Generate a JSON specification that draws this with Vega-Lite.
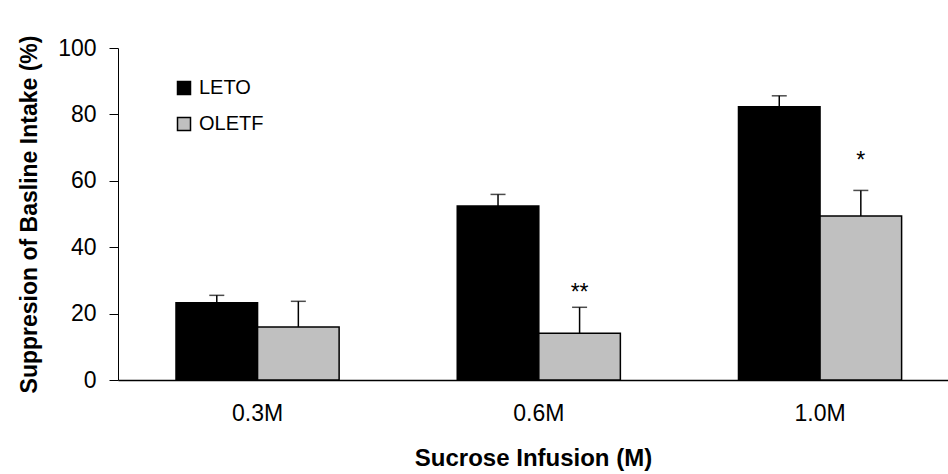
{
  "$schema": "https://vega.github.io/schema/vega-lite/v6.json",
  "autosize": {"type": "none"},
  "padding": {"left": 118, "top": 48, "right": 0, "bottom": 94},
  "width": 830,
  "height": 332,
  "config": {
    "font": "Liberation Sans",
    "view": {"stroke": null},
    "background": "white"
  },
  "datasets": {
    "bars": [
      {"dose": "0.3M", "group": "LETO", "value": 23.3, "err": 2.2},
      {"dose": "0.3M", "group": "OLETF", "value": 16.0, "err": 7.7},
      {"dose": "0.6M", "group": "LETO", "value": 52.4, "err": 3.5},
      {"dose": "0.6M", "group": "OLETF", "value": 14.1, "err": 7.8},
      {"dose": "1.0M", "group": "LETO", "value": 82.3, "err": 3.3},
      {"dose": "1.0M", "group": "OLETF", "value": 49.4, "err": 7.7}
    ],
    "marks": [
      {"dose": "0.6M", "group": "OLETF", "label": "**", "pos": 24.0},
      {"dose": "1.0M", "group": "OLETF", "label": "*", "pos": 64.0}
    ]
  },
  "encoding": {
    "x": {
      "field": "dose", "type": "nominal", "sort": ["0.3M", "0.6M", "1.0M"],
      "scale": {"paddingInner": 0.42, "paddingOuter": 0.1856, "align": 0.5556},
      "axis": {
        "title": "Sucrose Infusion (M)", "labelAngle": 0, "ticks": false,
        "labelFontSize": 23, "labelColor": "black", "labelPadding": 22,
        "domainColor": "black", "domainWidth": 1.5,
        "titleFontSize": 24, "titleFontWeight": "bold", "titleColor": "black", "titlePadding": 21
      }
    },
    "xOffset": {"field": "group", "type": "nominal", "sort": ["LETO", "OLETF"], "scale": {"paddingInner": 0, "paddingOuter": 0}}
  },
  "layer": [
    {
      "data": {"name": "bars"},
      "mark": {"type": "bar", "stroke": "black", "strokeWidth": 1.5},
      "encoding": {
        "y": {
          "field": "value", "type": "quantitative",
          "scale": {"domain": [0, 100]},
          "axis": {
            "title": "Suppresion of Basline Intake (%)", "values": [0, 20, 40, 60, 80, 100],
            "grid": false, "tickSize": 9, "tickColor": "black", "domainColor": "black",
            "labelFontSize": 23, "labelColor": "black", "labelPadding": 13,
            "titleFontSize": 23, "titleFontWeight": "bold", "titleColor": "black", "titlePadding": 16
          }
        },
        "fill": {
          "field": "group", "type": "nominal",
          "scale": {"domain": ["LETO", "OLETF"], "range": ["#000000", "#c0c0c0"]},
          "legend": {
            "title": null, "orient": "none", "legendX": 56, "legendY": 30,
            "symbolType": "square", "symbolSize": 169, "symbolStrokeColor": "black", "symbolStrokeWidth": 1.5,
            "labelFontSize": 20, "labelColor": "black", "labelOffset": 5, "rowPadding": 16, "padding": 0
          }
        }
      }
    },
    {
      "data": {"name": "bars"},
      "transform": [{"calculate": "datum.value + datum.err", "as": "hi"}],
      "mark": {"type": "rule", "color": "black", "strokeWidth": 1.5},
      "encoding": {
        "y": {"field": "value", "type": "quantitative"},
        "y2": {"field": "hi"}
      }
    },
    {
      "data": {"name": "bars"},
      "transform": [{"calculate": "datum.value + datum.err", "as": "hi"}],
      "mark": {"type": "tick", "color": "black", "size": 15, "thickness": 1.5, "orient": "horizontal"},
      "encoding": {
        "y": {"field": "hi", "type": "quantitative"}
      }
    },
    {
      "data": {"name": "marks"},
      "mark": {"type": "text", "fontSize": 23, "color": "black", "baseline": "alphabetic", "align": "center"},
      "encoding": {
        "y": {"field": "pos", "type": "quantitative"},
        "text": {"field": "label"}
      }
    }
  ]
}
